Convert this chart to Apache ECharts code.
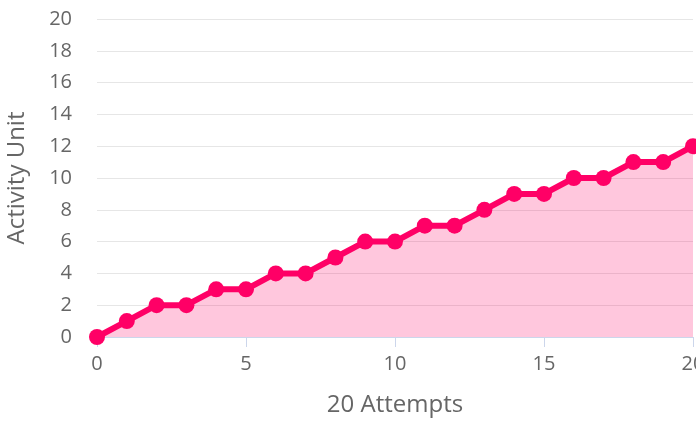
<!DOCTYPE html>
<html>
<head>
<meta charset="utf-8">
<script src="https://cdn.jsdelivr.net/npm/echarts@6/dist/echarts.min.js"></script>
<style>html,body{margin:0;padding:0;background:#fff}#c{width:696px;height:421px}</style>
</head>
<body>
<div id="c"></div>
<script>
const attempts = [0,1,2,3,4,5,6,7,8,9,10,11,12,13,14,15,16,17,18,19,20];
const activity = [0,1,2,2,3,3,4,4,5,6,6,7,7,8,9,9,10,10,11,11,12];
const xTitle = '20 Attempts';
const yTitle = 'Activity Unit';

const chart = echarts.init(document.getElementById('c'), null, {renderer:'canvas'});
const font = '"Open Sans", sans-serif';
chart.setOption({
  animation:false,
  grid:{left:97,right:3,top:19,bottom:84,containLabel:false,outerBoundsMode:'none'},
  xAxis:{
    type:'value',min:0,max:20,interval:5,
    name:xTitle,nameLocation:'middle',nameGap:56,
    nameTextStyle:{color:'#666',fontSize:24,fontFamily:font},
    axisLine:{show:true,lineStyle:{color:'#ccd6eb',width:1}},
    axisTick:{show:true,length:10,lineStyle:{color:'#ccd6eb'}},
    axisLabel:{color:'#666',fontSize:20,fontFamily:font,margin:17},
    splitLine:{show:false}
  },
  yAxis:{
    type:'value',min:0,max:20,interval:2,
    name:yTitle,nameLocation:'middle',nameGap:68,nameRotate:90,
    nameTextStyle:{color:'#666',fontSize:24,fontFamily:font},
    axisLine:{show:false},axisTick:{show:false},
    axisLabel:{color:'#666',fontSize:20,fontFamily:font,margin:25},
    splitLine:{lineStyle:{color:'#e6e6e6',width:1}}
  },
  series:[{
    type:'line',
    data:attempts.map((x,i)=>[x,activity[i]]),
    symbol:'circle',symbolSize:16,showSymbol:true,
    lineStyle:{color:'#ff0066',width:6},
    itemStyle:{color:'#ff0066'},
    areaStyle:{color:'#ff0066',opacity:0.22},
    clip:false
  }]
});
</script>
</body>
</html>
